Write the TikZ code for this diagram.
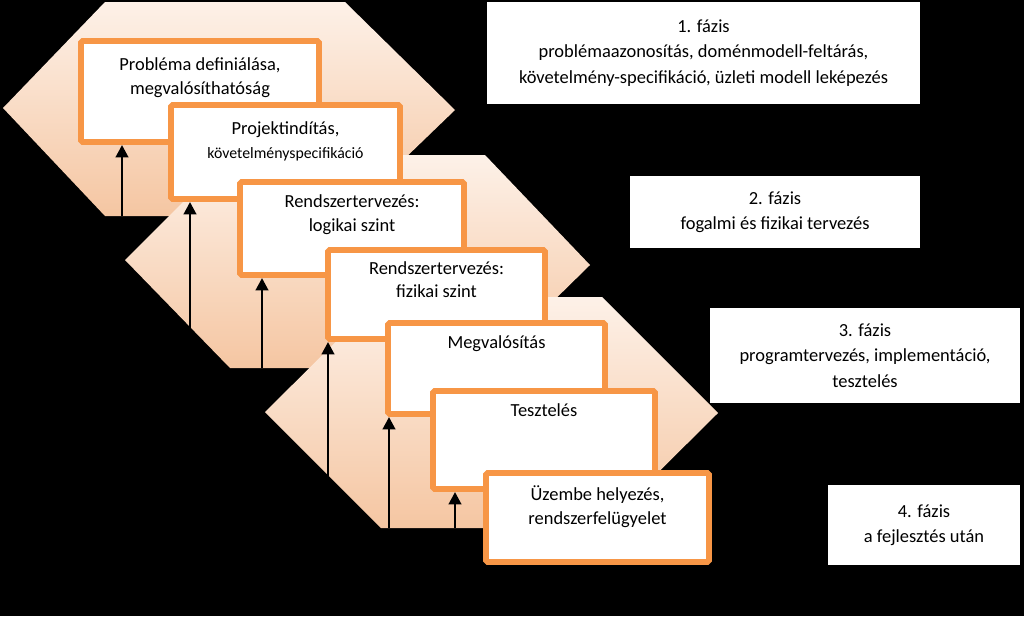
\documentclass[tikz,border=0pt]{standalone}
\usepackage{fontspec}
\setmainfont{Carlito}
\usetikzlibrary{positioning, arrows.meta, fit}
\definecolor{stageorange}{HTML}{F79646}
\definecolor{peachlight}{HTML}{FDF1E8}
\definecolor{peachdark}{HTML}{F5C6A2}
\tikzset{
  phasehex/.style={top color=peachlight, bottom color=peachdark, draw=none},
  stagebox/.style={draw=stageorange, line width=3.4pt, fill=white, inner sep=0pt, rounded corners=1pt},
  stagetext/.style={font=\fontsize{10.5}{13.5}\selectfont, align=center, inner sep=0pt},
  phasebox/.style={fill=white, inner sep=0pt},
  phasetext/.style={font=\fontsize{10.5}{14.5}\selectfont, align=center},
  uparrow/.style={line width=1.6pt, -{Triangle[length=7pt,width=7pt]}}
}
\begin{document}
\begin{tikzpicture}[x=0.02cm, y=-0.02cm]
        \fill[black] (0,0) rectangle (1024,616);
        \useasboundingbox (0,0) rectangle (1024,616);
        % phase hexagons
        \shade[phasehex] (3,108) -- (105,2) -- (345,2) -- (455,110) -- (345,216) -- (105,216) -- cycle;
        \shade[phasehex] (125,260) -- (230,155) -- (485,155) -- (590,265) -- (485,368) -- (230,368) -- cycle;
        \shade[phasehex] (265,412) -- (381,297) -- (602,297) -- (718,413) -- (602,528) -- (381,528) -- cycle;
        % stage boxes
        \foreach \nm/\xa/\ya/\xb/\yb in {s1/81/41/319/142, s2/171/105/400/199, s3/240/182/464/275,
            s4/328/250/545/339, s5/388/323/605/414, s6/433/391/655/489, s7/486/473/709/562}
        \node[stagebox, fit={(\xa,\ya) (\xb,\yb)}] (\nm) {};
        \node[stagetext, below=11pt of s1.north] (t1) {Probléma definiálása,\\megvalósíthatóság};
        \node[stagetext, below=11pt of s2.north] (t2) {Projektindítás,\\{\fontsize{9}{13.5}\selectfont követelményspecifikáció}};
        \node[stagetext, below=9pt of s3.north] (t3) {Rendszertervezés:\\logikai szint};
        \node[stagetext, below=8pt of s4.north] (t4) {Rendszertervezés:\\fizikai szint};
        \node[stagetext, below=9pt of s5.north] (t5) {Megvalósítás};
        \node[stagetext, below=9pt of s6.north] (t6) {Tesztelés};
        \node[stagetext, below=9pt of s7.north] (t7) {Üzembe helyezés,\\rendszerfelügyelet};
        % arrows
        \coordinate (a1) at (122,216);
        \coordinate (a2) at (190,368);
        \coordinate (a3) at (262,368);
        \coordinate (a4) at (328,528);
        \coordinate (a5) at (389,528);
        \coordinate (a6) at (455,528);
        \draw[uparrow] (a1) -- (a1 |- s1.south);
        \draw[uparrow] (a2) -- (a2 |- s2.south);
        \draw[uparrow] (a3) -- (a3 |- s3.south);
        \draw[uparrow] (a4) -- (a4 |- s4.south);
        \draw[uparrow] (a5) -- (a5 |- s5.south);
        \draw[uparrow] (a6) -- (a6 |- s6.south);
        % phase descriptions
        \node[phasebox, fit={(487,2) (920,104)}] (p1) {};
        \node[phasetext] at (p1) {1. fázis\\problémaazonosítás, doménmodell-feltárás,\\követelmény-specifikáció, üzleti modell leképezés};
        \node[phasebox, fit={(630,176) (920,248)}] (p2) {};
        \node[phasetext] at (p2) {2. fázis\\fogalmi és fizikai tervezés};
        \node[phasebox, fit={(710,308) (1020,403)}] (p3) {};
        \node[phasetext] at (p3) {3. fázis\\programtervezés, implementáció,\\tesztelés};
        \node[phasebox, fit={(828,485) (1020,565)}] (p4) {};
        \node[phasetext] at (p4) {4. fázis\\a fejlesztés után};
\end{tikzpicture}
\end{document}
